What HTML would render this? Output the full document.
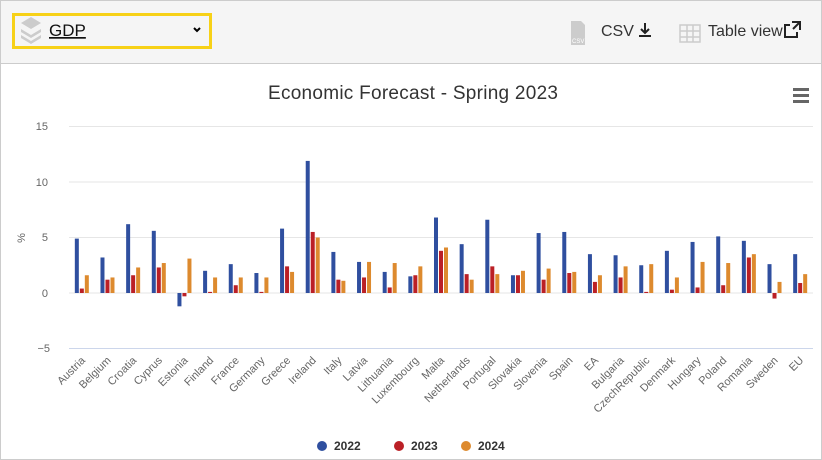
<!DOCTYPE html>
<html><head><meta charset="utf-8"><style>
body{margin:0;width:822px;height:460px;overflow:hidden;background:#fff;font-family:"Liberation Sans",sans-serif}
.wrap{position:absolute;left:0;top:0;width:820px;height:458px;border:1px solid #ccc}
.bar{position:absolute;left:0;top:0;width:820px;height:62px;background:#f5f5f5;border-bottom:1px solid #ccc}
.sel{position:absolute;left:11px;top:12px;width:194px;height:30px;border:3px solid #f7d117;box-sizing:content-box}
</style></head><body>
<div class="wrap">
<div class="bar">
 <div class="sel"></div>
 <svg width="820" height="62" style="position:absolute;left:0;top:0">
  <g fill="#ccc"><path d="M20 22 l10 -6 l10 6 l-10 6z"/><path d="M20 28 l10 6 l10 -6 v3 l-10 6 l-10 -6z"/><path d="M20 34 l10 6 l10 -6 v3 l-10 6 l-10 -6z"/></g>
  <text x="48" y="35" font-size="17" fill="#111" text-decoration="underline">GDP</text>
  <path d="M193 27 l3 3 l3 -3" stroke="#000" stroke-width="2" fill="none"/>
  <path d="M570 20 h10 l4 4 v20 h-14z" fill="#ccc"/><text x="571" y="42" font-size="6" fill="#fff">CSV</text>
  <text x="600" y="35" font-size="16" fill="#333">CSV</text>
  <path d="M644 22 v10 M640 28 l4 4 l4 -4 M638 35 h12" stroke="#222" stroke-width="2" fill="none"/>
  <g stroke="#ccc" fill="none" stroke-width="1.5"><rect x="679" y="24" width="20" height="17"/><path d="M679 30h20M679 36h20M686 24v17M692 24v17"/></g>
  <text x="707" y="35" font-size="16" fill="#333">Table view</text>
  <path d="M789 24 h-5 v12 h12 v-5 M791 21 h8 v8 M799 21 l-7 7" stroke="#222" stroke-width="2" fill="none"/>
 </svg>
</div>
<svg width="822" height="460" style="position:absolute;left:-1px;top:-1px" font-family="Liberation Sans,sans-serif">
 <text x="413" y="99" text-anchor="middle" font-size="19" fill="#333" textLength="290">Economic Forecast - Spring 2023</text>
 <g fill="#666"><rect x="793" y="88" width="16" height="3"/><rect x="793" y="94" width="16" height="3"/><rect x="793" y="100" width="16" height="3"/></g>
 <g stroke="#e6e6e6" stroke-width="1"><path d="M69 126.5H813M69 182H813M69 237.5H813M69 293H813"/></g>
 <path d="M69 348.5H813" stroke="#ccd6eb"/>
 <g font-size="11" fill="#666" text-anchor="end"><text x="48" y="130">15</text><text x="48" y="186">10</text><text x="48" y="241">5</text><text x="48" y="297">0</text><text x="50" y="352">−5</text></g>
 <text x="25" y="238" font-size="11" fill="#666" transform="rotate(-90 25 238)" text-anchor="middle">%</text>
 <g id="bars"></g>
 <g id="labels" font-size="11" fill="#666" text-anchor="end"></g>
 <g font-size="12" font-weight="bold" fill="#333">
  <circle cx="322" cy="446" r="5" fill="#2f4f9f"/><text x="334" y="450">2022</text>
  <circle cx="399" cy="446" r="5" fill="#bb2026"/><text x="411" y="450">2023</text>
  <circle cx="466" cy="446" r="5" fill="#dd8a2e"/><text x="478" y="450">2024</text>
 </g>
</svg>
</div>
<script>
var d=[["Austria",4.9,0.4,1.6],["Belgium",3.2,1.2,1.4],["Croatia",6.2,1.6,2.3],["Cyprus",5.6,2.3,2.7],["Estonia",-1.2,-0.3,3.1],["Finland",2.0,0.1,1.4],["France",2.6,0.7,1.4],["Germany",1.8,0.1,1.4],["Greece",5.8,2.4,1.9],["Ireland",11.9,5.5,5.0],["Italy",3.7,1.2,1.1],["Latvia",2.8,1.4,2.8],["Lithuania",1.9,0.5,2.7],["Luxembourg",1.5,1.6,2.4],["Malta",6.8,3.8,4.1],["Netherlands",4.4,1.7,1.2],["Portugal",6.6,2.4,1.7],["Slovakia",1.6,1.6,2.0],["Slovenia",5.4,1.2,2.2],["Spain",5.5,1.8,1.9],["EA",3.5,1.0,1.6],["Bulgaria",3.4,1.4,2.4],["CzechRepublic",2.5,0.1,2.6],["Denmark",3.8,0.3,1.4],["Hungary",4.6,0.5,2.8],["Poland",5.1,0.7,2.7],["Romania",4.7,3.2,3.5],["Sweden",2.6,-0.5,1.0],["EU",3.5,0.9,1.7]];
var c=["#2f4f9f","#bb2026","#dd8a2e"],ns="http://www.w3.org/2000/svg",b=document.getElementById("bars"),l=document.getElementById("labels");
var w=744/d.length;
d.forEach(function(r,i){var cx=69+w*(i+0.5);
for(var k=0;k<3;k++){var v=r[k+1],h=Math.abs(v)*11.1,e=document.createElementNS(ns,"rect");
e.setAttribute("x",cx-7+k*5);e.setAttribute("width",4);e.setAttribute("y",v>=0?293-h:293);e.setAttribute("height",Math.max(h,1));e.setAttribute("fill",c[k]);b.appendChild(e);}
var t=document.createElementNS(ns,"text");t.setAttribute("x",cx+4);t.setAttribute("y",361);t.setAttribute("transform","rotate(-45 "+(cx+4)+" 361)");t.textContent=r[0];l.appendChild(t);});
</script>
</body></html>
